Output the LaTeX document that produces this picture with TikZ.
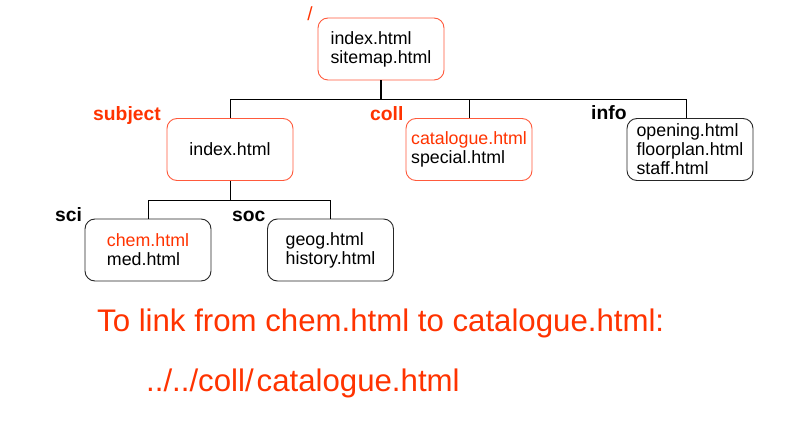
\documentclass[tikz,border=0pt]{standalone}
\usepackage{fontspec}
\setmainfont{Liberation Sans}
\definecolor{fred}{RGB}{255,51,0}
\definecolor{bred}{RGB}{255,90,60}
\begin{document}
\begin{tikzpicture}[x=1pt,y=-1pt,
  filebox/.style={draw, rounded corners=10pt, minimum width=126pt, minimum height=62pt,
    inner sep=0pt, align=left, font=\fontsize{17.8}{19}\selectfont, line width=0.9pt},
  redbox/.style={filebox, draw=bred},
  blackbox/.style={filebox, draw=black!85},
  dirlabel/.style={font=\fontsize{19.3}{21}\selectfont\bfseries, inner sep=0pt, anchor=base west},
  conn/.style={draw=black, line width=0.9pt},
  note/.style={font=\fontsize{31.2}{33}\selectfont, text=fred, inner sep=0pt, anchor=base west}]
\useasboundingbox[fill=white] (0,0) rectangle (800,430);

\node[redbox] (root) at (381,49) {index.html\\sitemap.html};
\node[redbox] (subj) at (230,149.5) {index.html};
\node[redbox] (coll) at (469,149.5) {\textcolor{fred}{catalogue.html}\\special.html};
\node[blackbox] (info) at (690,149.5) {opening.html\\floorplan.html\\staff.html};
\node[blackbox] (sci) at (148,250) {\textcolor{fred}{chem.html}\\med.html};
\node[blackbox] (soc) at (330.5,250) {geog.html\\history.html};

\node[font=\fontsize{19}{21}\selectfont, text=fred, inner sep=0pt] (lroot) at (310,14) {/};
\node[dirlabel, text=fred] (lsubj) at (93,121) {subject};
\node[dirlabel, text=fred] (lcoll) at (370,121) {coll};
\node[dirlabel] (linfo) at (591,120) {info};
\node[dirlabel] (lsci) at (55,222) {sci};
\node[dirlabel] (lsoc) at (232,222) {soc};

\coordinate (bus1) at (0,99);
\coordinate (bus2) at (0,200);
\coordinate (infotop) at ([xshift=-4pt]info.north);

\draw[conn, line width=1.6pt] (root.south) -- (root.south |- bus1);
\draw[conn] (subj.north) -- (subj.north |- bus1) -- (infotop |- bus1) -- (infotop);
\draw[conn] (coll.north) -- (coll.north |- bus1);
\draw[conn] (subj.south) -- (subj.south |- bus2);
\draw[conn] (sci.north) -- (sci.north |- bus2) -- (soc.north |- bus2) -- (soc.north);

\node[note] (line1) at (97,331) {To link from chem.html to catalogue.html:};
\node[note] (line2) at (146,391) {../../coll/\kern3pt catalogue.html};
\end{tikzpicture}
\end{document}
